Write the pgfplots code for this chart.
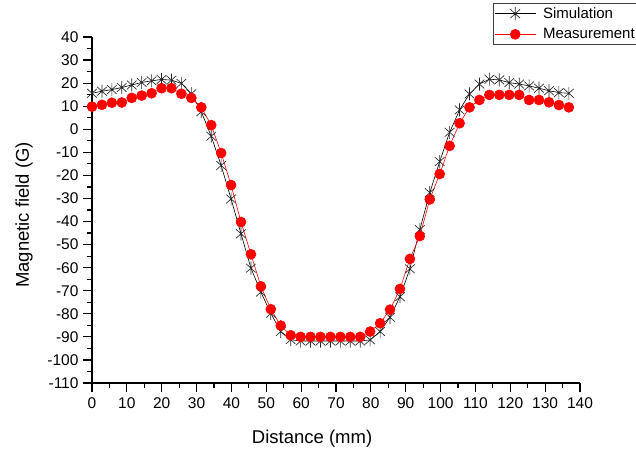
\documentclass[border=0pt]{standalone}
\usepackage{fontspec}
\setmainfont{Liberation Sans}
\usepackage{pgfplots}
\pgfplotsset{compat=1.18}
\pgfdeclareplotmark{zh}{%
  \pgfpathmoveto{\pgfqpoint{0pt}{\pgfplotmarksize}}%
  \pgfpathlineto{\pgfqpoint{0pt}{-\pgfplotmarksize}}%
  \pgfpathmoveto{\pgfqpoint{0.74\pgfplotmarksize}{0.67\pgfplotmarksize}}%
  \pgfpathlineto{\pgfqpoint{-0.74\pgfplotmarksize}{-0.67\pgfplotmarksize}}%
  \pgfpathmoveto{\pgfqpoint{-0.74\pgfplotmarksize}{0.67\pgfplotmarksize}}%
  \pgfpathlineto{\pgfqpoint{0.74\pgfplotmarksize}{-0.67\pgfplotmarksize}}%
  \pgfusepathqstroke}
\begin{document}
\begin{tikzpicture}
\begin{axis}[
  at={(0pt,0pt)}, anchor=south west,
  scale only axis, width=488pt, height=346pt,
  xmin=0, xmax=140, ymin=-110, ymax=40,
  axis lines=left, axis line style={-, line width=1.4pt, black},
  xtick={0,10,...,140}, ytick={-110,-100,...,40},
  minor x tick num=1, minor y tick num=1,
  tick align=outside, major tick length=9pt, minor tick length=5pt,
  every tick/.style={black, line width=1.2pt},
  /pgf/number format/assume math mode=true,
  ticklabel style={font=\fontsize{15.5}{18}\selectfont},
  xticklabel style={yshift=-2pt},
  yticklabel style={xshift=-1pt},
  label style={font=\fontsize{18.5}{22}\selectfont},
  xlabel={Distance (mm)}, ylabel={Magnetic field (G)},
  xlabel style={at={(axis description cs:0.451,-0.161)}, anchor=center},
  ylabel style={at={(axis description cs:-0.139,0.486)}, anchor=center},
  clip=false,
  legend style={at={(0.822,1.099)}, anchor=north west, draw=black!75, line width=0.6pt,
    font=\fontsize{15}{18}\selectfont, inner xsep=1pt, inner ysep=2.5pt,
    row sep=4.5pt, cells={anchor=west}},
  legend image code/.code={%
    \draw[mark repeat=2, mark phase=2] plot coordinates {(0pt,0pt) (20.5pt,0pt) (41pt,0pt)};},
]
\addplot[black, line width=0.6pt, mark=zh, mark size=6.5pt, mark options={line width=0.65pt, black!85}] coordinates {
(0,15.6) (2.85,16.5) (5.7,17.2) (8.55,18.1) (11.4,19.2) (14.25,20.3) (17.1,21.0) (19.95,21.6)
(22.8,21.3) (25.65,19.9) (28.5,15.4) (31.35,7.6) (34.2,-3.0) (37.05,-15.7) (39.9,-30.2)
(42.75,-45.3) (45.6,-60.2) (48.45,-70.6) (51.3,-79.8) (54.15,-87.7) (57.0,-91.2) (59.85,-91.8)
(62.7,-91.8) (65.55,-91.8) (68.4,-91.8) (71.25,-91.8) (74.1,-91.8) (76.95,-91.8) (79.8,-91.3)
(82.65,-87.7) (85.5,-81.5) (88.35,-72.6) (91.2,-60.5) (94.05,-43.5) (96.9,-27.5) (99.75,-14.0)
(102.6,-1.3) (105.45,8.4) (108.3,15.3) (111.15,19.6) (114.0,21.7) (116.85,21.4) (119.7,20.2)
(122.55,19.6) (125.4,18.8) (128.25,17.8) (131.1,16.7) (133.95,15.9) (136.8,15.6)
};
\addlegendentry{\hspace{5pt}Simulation}
\addplot[red, line width=0.6pt, mark=*, mark size=5pt, mark options={fill=red, draw=red}] coordinates {
(0,9.8) (2.85,10.6) (5.7,11.5) (8.55,11.6) (11.4,13.6) (14.25,14.6) (17.1,15.6) (19.95,17.8)
(22.8,17.8) (25.65,15.4) (28.5,13.6) (31.35,9.5) (34.2,1.8) (37.05,-10.3) (39.9,-24.2)
(42.75,-40.2) (45.6,-54.2) (48.45,-68.1) (51.3,-78.0) (54.15,-85.1) (57.0,-89.3) (59.85,-90.0)
(62.7,-90.0) (65.55,-90.0) (68.4,-90.0) (71.25,-90.0) (74.1,-90.0) (76.95,-90.0) (79.8,-87.7)
(82.65,-84.1) (85.5,-78.2) (88.35,-69.2) (91.2,-56.2) (94.05,-46.3) (96.9,-30.4) (99.75,-19.4)
(102.6,-7.2) (105.45,2.6) (108.3,9.5) (111.15,12.7) (114.0,14.9) (116.85,14.9) (119.7,14.9)
(122.55,14.9) (125.4,12.7) (128.25,12.7) (131.1,11.7) (133.95,10.5) (136.8,9.5)
};
\addlegendentry{\hspace{5pt}Measurement}
\end{axis}
\pgfresetboundingbox
\path (-92pt,-70pt) rectangle (544pt,383pt);
\end{tikzpicture}
\end{document}
